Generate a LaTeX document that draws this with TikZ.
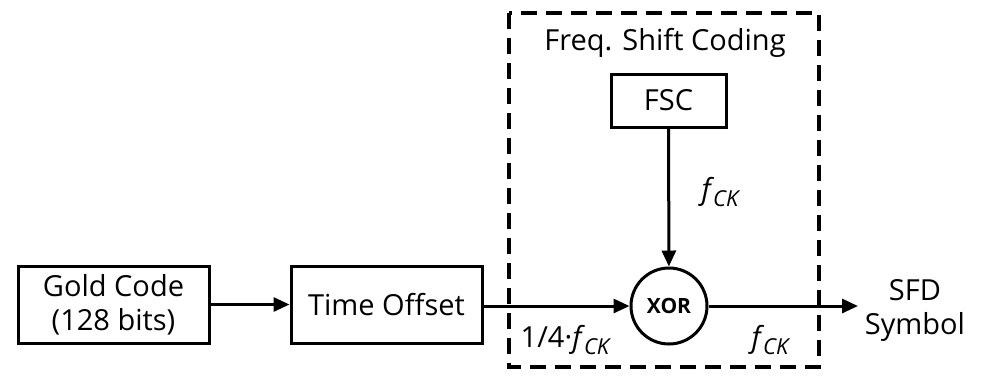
\documentclass[tikz,border=0pt]{standalone}
\usepackage{fontspec}
\setmainfont{Open Sans}
\usetikzlibrary{arrows.meta}
\tikzset{
	block/.style={draw, line width=1.5pt, minimum height=38.5pt, minimum width=95.5pt, inner sep=0pt, align=center},
	conn/.style={line width=1.5pt, -{Triangle[length=8pt,width=7pt]}},
	fck/.style={inner sep=0pt}
}
\newcommand{\fck}{\textit{f}\kern-0.5pt\raisebox{-3.5pt}{\fontsize{11}{12}\selectfont\itshape CK}}
\begin{document}
\begin{tikzpicture}[x=0.5pt, y=-0.5pt, font=\fontsize{14.5}{17}\selectfont]
	\useasboundingbox (0,0) rectangle (981,377);
	%frame
	\draw[line width=2pt, dash pattern=on 8pt off 4.5pt] (509,13) rectangle (819,367);
	\node (fsclabel) at (665,43) {Freq. Shift Coding};
	%blocks
	\node[block] (gold) at (113.5,304.5) {Gold Code\\(128 bits)};
	\node[block] (time) at (386.5,304.5) {Time Offset};
	\node[block, minimum width=57.5pt, minimum height=26.5pt] (fsc) at (668.5,100.5) {FSC};
	\node[draw, circle, line width=1.5pt, minimum size=38pt, inner sep=0pt, font=\fontsize{10.5}{12}\selectfont\bfseries] (xor) at (669,306) {XOR};
	\node[align=center] (sfd) at (915,310) {SFD\\Symbol};
	\coordinate (out) at (858,306);
	%arrows
	\draw[conn] (gold) -- (time);
	\draw[conn] (time.east |- xor) -- (xor);
	\draw[conn] (fsc) -- (xor);
	\draw[conn] (xor) -- (out);
	%labels
	\node[fck] (f1) at (720,192) {\fck};
	\node[fck] (f2) at (565,340) {1/4·\fck};
	\node[fck] (f3) at (770,340) {\fck};
\end{tikzpicture}
\end{document}
